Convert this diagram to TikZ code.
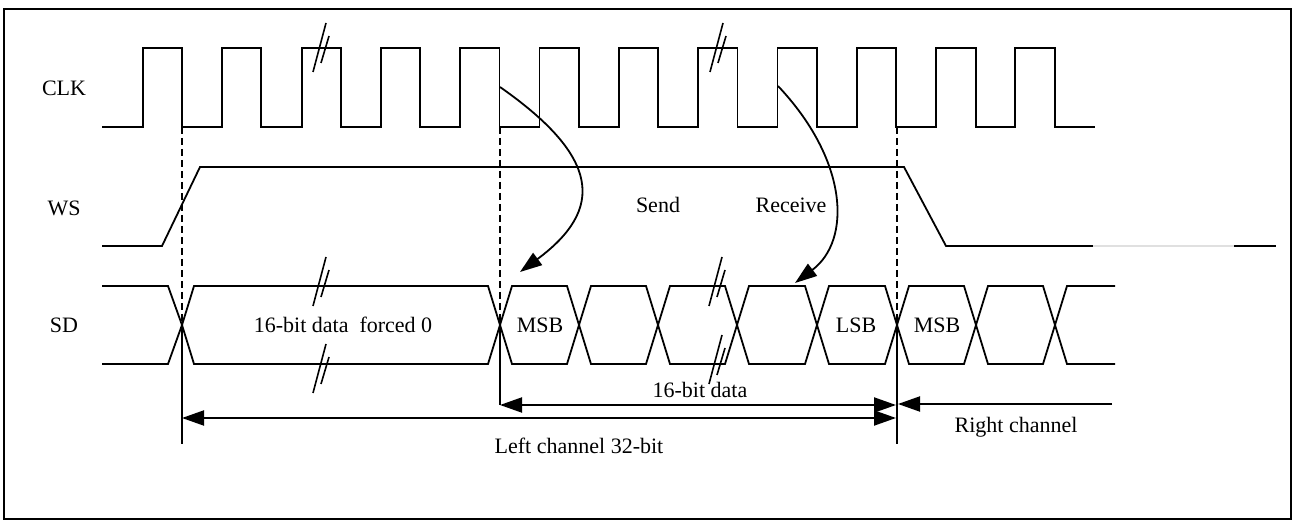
\documentclass[tikz,border=0pt]{standalone}
\usepackage{fontspec}
\setmainfont{Liberation Serif}
\usetikzlibrary{arrows.meta}
\begin{document}
\begin{tikzpicture}[x=1pt,y=-1pt,line join=miter,
  wave/.style={line width=1.8pt},
  guide/.style={line width=1.6pt,dash pattern=on 7pt off 4pt},
  vthin/.style={line width=1.1pt},
  tipA/.tip={Triangle[length=22pt,width=15pt]},
  dimboth/.style={line width=2pt,tipA-tipA},
  dimone/.style={line width=2pt,-tipA},
  curv/.style={line width=1.8pt,-tipA},
  lbl/.style={font=\fontsize{22}{26}\selectfont,inner sep=0pt},
  brk/.pic={\draw[line width=1.6pt] (-6,24) -- (7,-25); \draw[line width=1.6pt] (2,15) -- (10,-12);}
]
\useasboundingbox (0,0) rectangle (1294,521);
\draw[line width=1.5pt] (4,9) rectangle (1291,519);

% signal labels
\node[lbl] (clk) at (64,88) {CLK};
\node[lbl] (ws) at (64,208) {WS};
\node[lbl] (sd) at (64,325) {SD};

% CLK waveform
\draw[wave] (102,127) foreach \k in {0,...,11} {
  -- ({143+79.3*\k},127) -- ({143+79.3*\k},48) -- ({182+79.36*\k},48) -- ({182+79.36*\k},127)
} -- (1095,127);

% WS waveform
\draw[wave] (102,246) -- (162,246) -- (200,167) -- (904,167) -- (946,246) -- (1093,246);
\draw[line width=1.2pt,black!12] (1093,246) -- (1234,246);
\draw[wave] (1234,246) -- (1276,246);

% SD waveform
\draw[wave] (102,286) -- (168,286) -- (182,325) -- (168,364) -- (102,364);
\foreach \a/\b in {182/500,500/579,579/658,658/737,737/817,817/897,897/976,976/1055}{
  \draw[wave] (\a,325) -- (\a+12,286) -- (\b-12,286) -- (\b,325) -- (\b-12,364) -- (\a+12,364) -- cycle;
}
\draw[wave] (1115,286) -- (1067,286) -- (1055,325) -- (1067,364) -- (1115,364);

% break marks
\pic at (319,48) {brk};
\pic at (716,48) {brk};
\pic at (319,282) {brk};
\pic at (319,369) {brk};
\pic at (715,282) {brk};
\pic at (715,360) {brk};

% guide lines
\coordinate (g1t) at (182,127); \coordinate (g1m) at (182,325); \coordinate (g1b) at (182,444);
\coordinate (g2t) at (500,127); \coordinate (g2m) at (500,325); \coordinate (g2b) at (500,405);
\coordinate (g3t) at (897,127); \coordinate (g3m) at (897,325); \coordinate (g3b) at (897,444);
\draw[guide] (g1t) -- (g1m);
\draw[guide] (g2t) -- (g2m);
\draw[guide] (g3t) -- (g3m);
\draw[vthin] (g1m) -- (g1b);
\draw[vthin] (g2m) -- (g2b);
\draw[vthin] (g3m) -- (g3b);

% data labels
\node[lbl] (forced) at (343,325) {16-bit data\ \ forced 0};
\node[lbl] (msb1) at (540,325) {MSB};
\node[lbl] (lsb) at (856,325) {LSB};
\node[lbl] (msb2) at (937,325) {MSB};
\node[lbl] (send) at (658,205) {Send};
\node[lbl] (recv) at (791,205) {Receive};

% curved arrows
\coordinate (sendS) at (500,87);
\coordinate (sendE) at (520,272);
\draw[curv] (sendS) .. controls (600,157) and (605,209) .. (sendE);
\coordinate (recvS) at (778,86);
\coordinate (recvE) at (795,283);
\draw[curv] (recvS) .. controls (848,160) and (852,240) .. (recvE);

% dimension arrows
\coordinate (d16L) at (500,405); \coordinate (d16R) at (896,405);
\draw[dimboth] (d16L) -- (d16R);
\coordinate (d32L) at (182,418); \coordinate (d32R) at (896,418);
\draw[dimboth] (d32L) -- (d32R);
\coordinate (rcS) at (1112,404); \coordinate (rcE) at (898,404);
\draw[dimone] (rcS) -- (rcE);

\node[lbl] (l16) at (700,390) {16-bit data};
\node[lbl] (l32) at (579,446) {Left channel 32-bit};
\node[lbl] (lrc) at (1016,427) {Right channel};
\end{tikzpicture}
\end{document}
